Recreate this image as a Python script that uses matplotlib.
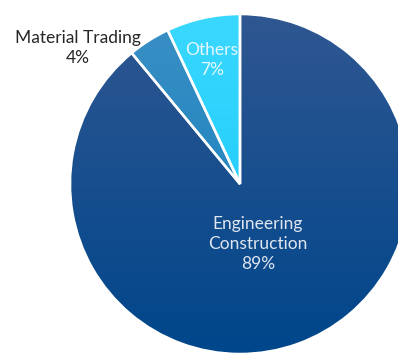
import numpy as np
import matplotlib
matplotlib.use("Agg")
import matplotlib.pyplot as plt
from matplotlib.colors import LinearSegmentedColormap

labels = ["Others", "Material Trading", "Engineering\nConstruction"]
shares = [7, 4, 89]
top_colors = ["#3ad8ff", "#3a8fc4", "#2f5791"]
bottom_colors = ["#12c6f6", "#0f7fbd", "#00468b"]

W, H = 398, 354
fig = plt.figure(figsize=(W / 100, H / 100), dpi=100)
R = 170
cx, cy = 240, 184
ax = fig.add_axes([(cx - R) / W, (H - cy - R) / H, 2 * R / W, 2 * R / H])
ax.set_xlim(-1, 1)
ax.set_ylim(-1, 1)
ax.axis("off")

wedges, _ = ax.pie(shares, startangle=90, counterclock=True, radius=1,
                   wedgeprops=dict(edgecolor="white", linewidth=1.8))

# vertical gradient fill per wedge
grad = np.linspace(0, 1, 256).reshape(-1, 1)
for w, c0, c1 in zip(wedges, top_colors, bottom_colors):
    w.set_facecolor("none")
    cmap = LinearSegmentedColormap.from_list("g", [c0, c1])
    im = ax.imshow(grad, cmap=cmap, extent=[-1, 1, -1, 1], origin="upper",
                   aspect="auto", zorder=0.5)
    im.set_clip_path(w)
    w.set_zorder(2)

ax.set_xlim(-1, 1)
ax.set_ylim(-1, 1)

font = "Lato"
fs = 12.5
fig.text(78 / W, 1 - 48 / H, "Material Trading\n4%", ha="center", va="center",
         fontsize=fs, family=font, color="#262626", linespacing=1.38)
fig.text(212 / W, 1 - 60 / H, "Others\n7%", ha="center", va="center",
         fontsize=fs, family=font, color="#e6f6ff", linespacing=1.35)
fig.text(258 / W, 1 - 244 / H, "Engineering\nConstruction\n89%", ha="center",
         va="center", fontsize=fs, family=font, color="#dfe6ef",
         linespacing=1.27)

fig.savefig("out.png", dpi=100)
